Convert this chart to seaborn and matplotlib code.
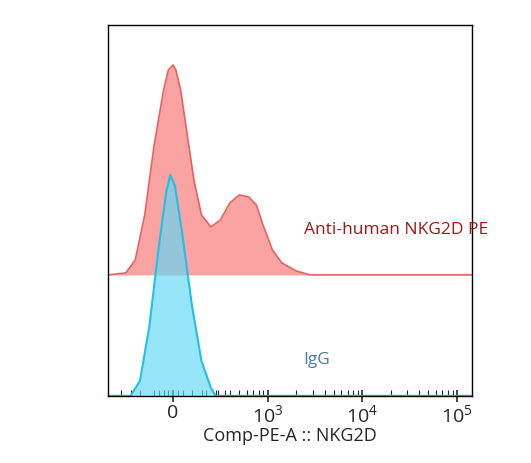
import numpy as np
import matplotlib.pyplot as plt
import seaborn as sns

# x in display channels: 0 -> 0, 10^3 -> 1, 10^4 -> 2, 10^5 -> 3
red_x = [-0.69, -0.5, -0.4, -0.3, -0.2, -0.1, -0.05, 0.0, 0.03, 0.08, 0.15, 0.22, 0.3,
         0.4, 0.5, 0.6, 0.7, 0.8, 0.88, 0.95, 1.05, 1.15, 1.3, 1.45, 3.16]
red_y = [0, 2, 15, 60, 130, 185, 205, 210, 205, 185, 140, 95, 60,
         48, 55, 72, 80, 78, 70, 50, 25, 12, 4, 0, 0]
blue_x = [-0.69, -0.45, -0.35, -0.25, -0.15, -0.07, -0.03, 0.02, 0.1, 0.2, 0.3, 0.4, 0.45, 3.16]
blue_y = [0, 0, 15, 70, 150, 205, 221, 210, 160, 90, 35, 8, 0, 0]
red_offset = 121
tick_pos = [0, 1, 2, 3]
tick_labels = ['0', '$10^3$', '$10^4$', '$10^5$']

sns.set_style('white')
plt.rcParams['font.family'] = ['Open Sans', 'DejaVu Sans']
plt.rcParams['mathtext.fontset'] = 'custom'
plt.rcParams['mathtext.rm'] = 'Open Sans'

fig = plt.figure(figsize=(5.31, 4.63), dpi=100)
ax = fig.add_axes([0.203, 0.145, 0.686, 0.801])

ry = np.array(red_y) + red_offset
ax.fill_between(red_x, red_offset, ry, color='#f9a3a3', lw=0)
sns.lineplot(x=red_x, y=ry, color='#ee5f5f', lw=1.2, ax=ax, sort=False)
ax.fill_between(blue_x, 0, blue_y, color='#5fd8f5', alpha=0.65, lw=0)
sns.lineplot(x=blue_x, y=blue_y, color='#22c0e6', lw=1.5, ax=ax, sort=False)

ax.set_xlim(-0.69, 3.16)
ax.set_ylim(0, 371)
ax.set_yticks([])
ax.set_xticks(tick_pos)
ax.set_xticklabels(tick_labels, fontsize=14)
minor = [-0.55, -0.45, -0.35, -0.2, -0.15, -0.1, -0.05, 0.05, 0.1, 0.2, 0.35, 0.45, 0.55]
for d in range(3):
    minor += [d + np.log10(k) for k in range(2, 10)]
ax.set_xticks(minor, minor=True)
ax.tick_params(axis='x', which='major', direction='inout', length=8, width=1.2, bottom=True, pad=2)
ax.tick_params(axis='x', which='minor', direction='in', length=4, width=0.8, bottom=True)
for s in ax.spines.values():
    s.set_color('black')
    s.set_linewidth(1)
ax.set_xlabel('Comp-PE-A :: NKG2D', fontsize=13, labelpad=0)

ax.text(1.38, 162, 'Anti-human NKG2D PE', color='#a01818', fontsize=12.5, clip_on=False)
ax.text(1.38, 32, 'IgG', color='#4a7ab0', fontsize=12.5)

fig.savefig('out.png', dpi=100)
